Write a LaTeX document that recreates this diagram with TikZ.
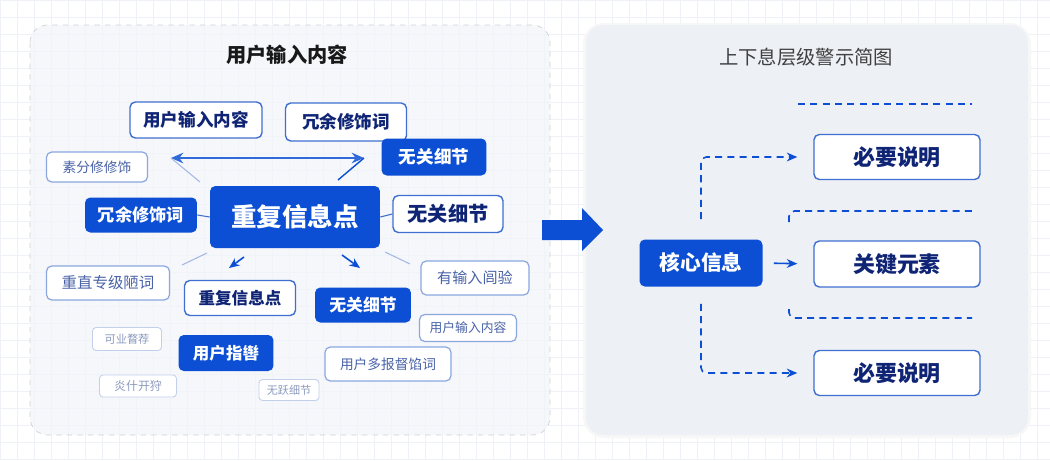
\documentclass[tikz,border=0pt]{standalone}
\usepackage{fontspec}
\setmainfont{Noto Sans CJK SC}
\usepackage{tikz}
\usetikzlibrary{arrows.meta, positioning, calc}
\usepackage{xcolor}

\definecolor{brand}{HTML}{0C4FD4}
\definecolor{navy}{HTML}{0F2475}
\definecolor{boxline}{HTML}{3F6FD0}
\definecolor{lightline}{HTML}{8AA7E0}
\definecolor{lighttext}{HTML}{4A63A8}
\definecolor{faintline}{HTML}{C3D0EC}
\definecolor{fainttext}{HTML}{8D9BBE}
\definecolor{gridc}{HTML}{EEF1F5}
\definecolor{panelL}{HTML}{F2F5FA}
\definecolor{panelR}{HTML}{EDF0F5}
\definecolor{thinline}{HTML}{A3B8E6}

\newcommand{\fsz}[1]{\fontsize{#1}{#1}\selectfont}

\begin{document}
\begin{tikzpicture}[
    x=0.02cm, y=-0.02cm,
    solidbox/.style={fill=brand, rounded corners=3pt, text=white, font=\bfseries, inner sep=0pt},
    whitebox/.style={draw=boxline, line width=0.8pt, fill=white, rounded corners=3pt, text=navy, font=\bfseries, inner sep=0pt},
    lightbox/.style={draw=lightline, line width=0.7pt, fill=white, rounded corners=3pt, text=lighttext, inner sep=0pt},
    faintbox/.style={draw=faintline, line width=0.5pt, fill=white, rounded corners=2pt, text=fainttext, inner sep=0pt},
    thin/.style={draw=thinline, line width=0.6pt},
    conn/.style={draw=brand, line width=0.9pt, -{Stealth[length=6pt,width=5pt]}},
    dashconn/.style={draw=brand, line width=0.9pt, dash pattern=on 4pt off 3pt, rounded corners=3pt},
]
\useasboundingbox (0,0) rectangle (1050,460);
\fill[white] (0,0) rectangle (1050,460);

% background grid
\foreach \gx in {0,17,...,1050} \draw[gridc, line width=0.4pt] (\gx,0) -- (\gx,460);
\foreach \gy in {0,17,...,460} \draw[gridc, line width=0.4pt] (0,\gy) -- (1050,\gy);

% left panel
\draw[draw=gray!35, dashed, fill=panelL, fill opacity=0.7, rounded corners=10pt] (30,25) rectangle (550,435);
\node[font=\bfseries\fsz{11.5}, text=black!90] (ltitle) at (287,55) {用户输入内容};

% right panel
\fill[black!3, rounded corners=12pt] (583,23) rectangle (1031,438);
\fill[panelR, rounded corners=10pt] (586,25) rectangle (1028,435);
\node[font=\fsz{11}, text=black!75] (rtitle) at (806,57) {上下息层级警示简图};

% left cluster
\node[whitebox, minimum width=2.64cm, minimum height=0.72cm, font=\bfseries\fsz{10}] (inA) at (196,120) {用户输入内容};
\node[whitebox, minimum width=2.42cm, minimum height=0.76cm, font=\bfseries\fsz{10}] (redA) at (346,122) {冗余修饰词};
\node[solidbox, minimum width=2.10cm, minimum height=0.74cm, font=\bfseries\fsz{10}] (irrA) at (434,157) {无关细节};
\node[lightbox, minimum width=2.02cm, minimum height=0.60cm, font=\fsz{7.8}] (decA) at (97,167) {素分修修饰};
\node[solidbox, minimum width=2.24cm, minimum height=0.70cm, font=\bfseries\fsz{9.8}] (redB) at (141,215) {冗余修饰词};
\node[solidbox, minimum width=3.40cm, minimum height=1.24cm, font=\bfseries\fsz{14.5}] (main) at (295,217) {重复信息点};
\node[whitebox, minimum width=2.20cm, minimum height=0.74cm, font=\bfseries\fsz{11.5}] (irrB) at (448,214) {无关细节};
\node[lightbox, minimum width=2.46cm, minimum height=0.68cm, font=\fsz{8.8}] (decB) at (108,283) {重直专级陋词};
\node[whitebox, minimum width=2.22cm, minimum height=0.70cm, font=\bfseries\fsz{9.4}] (repB) at (240,298) {重复信息点};
\node[solidbox, minimum width=1.92cm, minimum height=0.70cm, font=\bfseries\fsz{9.6}] (irrC) at (363,305) {无关细节};
\node[lightbox, minimum width=2.16cm, minimum height=0.68cm, font=\fsz{8.6}] (chkA) at (475,278) {有输入闾验};
\node[faintbox, minimum width=1.38cm, minimum height=0.46cm, font=\fsz{6.4}] (recA) at (127,339) {可业瞀荐};
\node[solidbox, minimum width=1.90cm, minimum height=0.72cm, font=\bfseries\fsz{9.4}] (usrB) at (226,353) {用户指辔};
\node[lightbox, minimum width=1.94cm, minimum height=0.54cm, font=\fsz{7.3}] (inB) at (468,328) {用户输入内容};
\node[lightbox, minimum width=2.52cm, minimum height=0.68cm, font=\fsz{7.8}] (usrC) at (388,364) {用户多报督馅词};
\node[faintbox, minimum width=1.54cm, minimum height=0.44cm, font=\fsz{6.8}] (yanA) at (138,386) {炎什开狩};
\node[faintbox, minimum width=1.20cm, minimum height=0.42cm, font=\fsz{6.3}] (irrD) at (289,390) {无跃细节};

% left connectors
\coordinate (arL) at (171,158);
\coordinate (arR) at (364,158);
\coordinate (tl1) at (200,182);
\coordinate (tr1) at (338,180);
\coordinate (bl1) at (182,265);
\coordinate (bl2) at (207,253);
\coordinate (da1) at (244,257);
\coordinate (da2) at (229,268);
\coordinate (db1) at (342,255);
\coordinate (db2) at (360,268);
\coordinate (br1) at (385,252);
\coordinate (br2) at (410,264);
\draw[draw=brand!85, line width=0.9pt, {Stealth[length=7pt,width=6pt]}-{Stealth[length=7pt,width=6pt]}] (arL) -- (arR);
\draw[thin] (arL) -- (tl1);
\draw[draw=brand, line width=0.8pt] (tr1) -- (arR);
\draw[thin, draw=boxline] (redB.east) -- (main.west);
\draw[thin, draw=boxline] (main.east) -- (irrB.west);
\draw[thin] (bl1) -- (bl2);
\draw[conn] (da1) -- (da2);
\draw[conn] (db1) -- (db2);
\draw[thin] (br1) -- (br2);

% big arrow between panels
\fill[brand] (542,220) -- (582,220) -- (582,208) -- (603,230) -- (582,251) -- (582,240) -- (542,240) -- cycle;

% right cluster
\node[solidbox, minimum width=2.46cm, minimum height=0.94cm, font=\bfseries\fsz{11.8}] (core) at (701,263) {核心信息};
\node[whitebox, minimum width=3.32cm, minimum height=0.90cm, font=\bfseries\fsz{12.5}] (needA) at (897,157) {必要说明};
\node[whitebox, minimum width=3.32cm, minimum height=0.92cm, font=\bfseries\fsz{12.5}] (key) at (897,264) {关键元素};
\node[whitebox, minimum width=3.32cm, minimum height=0.90cm, font=\bfseries\fsz{12.5}] (needB) at (897,373) {必要说明};

% right connectors
\coordinate (ta) at (798,104);
\coordinate (tb) at (972,104);
\coordinate (ua) at (789,222);
\coordinate (ub) at (789,211);
\coordinate (uc) at (972,211);
\coordinate (va) at (789,309);
\coordinate (vb) at (789,318);
\coordinate (vc) at (972,318);
\draw[dashconn] (ta) -- (tb);
\draw[dashconn] (ua) -- (ub) -- (uc);
\draw[dashconn] (va) -- (vb) -- (vc);
\draw[dashconn, -{Stealth[length=6pt,width=5pt]}, shorten <=0.4cm, shorten >=0.32cm] (core.north) |- (needA.west);
\draw[dashconn, -{Stealth[length=6pt,width=5pt]}, shorten <=0.34cm, shorten >=0.32cm] (core.south) |- (needB.west);
\draw[conn, shorten <=0.22cm, shorten >=0.32cm] (core.east) -- (key.west);

\end{tikzpicture}
\end{document}
